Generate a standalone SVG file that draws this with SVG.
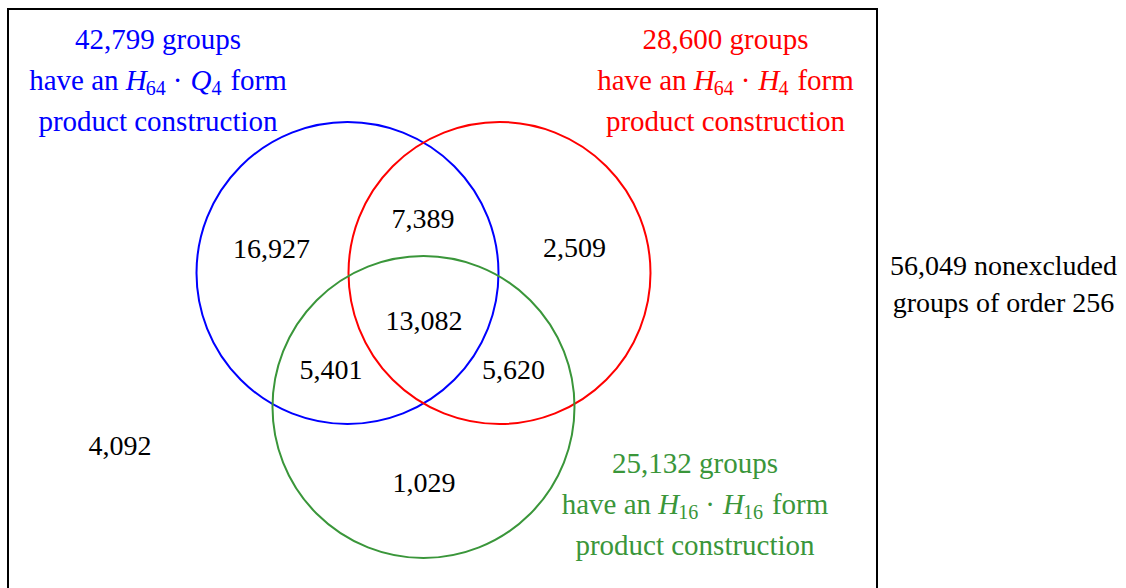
<svg xmlns="http://www.w3.org/2000/svg" width="1126" height="588" viewBox="0 0 1126 588">
<style>
text{font-family:"Liberation Serif","Times New Roman",serif;font-size:28px;text-anchor:middle}
.b,.r,.g{font-size:29px}
.b{fill:#0000ff}.r{fill:#ff0000}.g{fill:#3a963a}.k{fill:#000}
.i{font-style:italic}
tspan.s{font-size:20px}
circle{fill:none;stroke-width:2}
</style>
<rect width="1126" height="588" fill="#fff"/>
<rect id="frame" x="8" y="9" width="869" height="600" fill="none" stroke="#000" stroke-width="2"/>
<g id="connectors"></g>
<g id="setA"><circle cx="347.5" cy="273" r="151" stroke="#0000ff"/></g>
<g id="setB"><circle cx="499.5" cy="273" r="151" stroke="#ff0000"/></g>
<g id="setC"><circle cx="423.5" cy="407" r="151" stroke="#3a963a"/></g>
<g id="labelA">
<text class="b" x="158" y="49">42,799 groups</text>
<text class="b" x="158" y="90">have an <tspan class="i">H</tspan><tspan class="s" dx="-1" dy="5">64</tspan><tspan dx="7" dy="-5">·</tspan><tspan class="i" dx="8">Q</tspan><tspan class="s" dy="5">4</tspan><tspan dx="9" dy="-5">form</tspan></text>
<text class="b" x="158" y="131">product construction</text>
</g>
<g id="labelB">
<text class="r" x="725.5" y="49">28,600 groups</text>
<text class="r" x="725.5" y="90">have an <tspan class="i">H</tspan><tspan class="s" dx="-1" dy="5">64</tspan><tspan dx="7" dy="-5">·</tspan><tspan class="i" dx="8">H</tspan><tspan class="s" dx="-1" dy="5">4</tspan><tspan dx="9" dy="-5">form</tspan></text>
<text class="r" x="725.5" y="131">product construction</text>
</g>
<g id="labelC">
<text class="g" x="695" y="473">25,132 groups</text>
<text class="g" x="695" y="514">have an <tspan class="i">H</tspan><tspan class="s" dx="-1" dy="5">16</tspan><tspan dx="7" dy="-5">·</tspan><tspan class="i" dx="8">H</tspan><tspan class="s" dx="-1" dy="5">16</tspan><tspan dx="9" dy="-5">form</tspan></text>
<text class="g" x="695" y="555">product construction</text>
</g>
<g id="regions" class="k">
<text x="271.5" y="258">16,927</text>
<text x="423" y="228">7,389</text>
<text x="574.5" y="257">2,509</text>
<text x="424" y="330">13,082</text>
<text x="331" y="379">5,401</text>
<text x="513.5" y="379">5,620</text>
<text x="120" y="455">4,092</text>
<text x="424" y="492">1,029</text>
</g>
<g id="total">
<text x="1003.5" y="275">56,049 nonexcluded</text>
<text x="1003.5" y="312">groups of order 256</text>
</g>
</svg>
